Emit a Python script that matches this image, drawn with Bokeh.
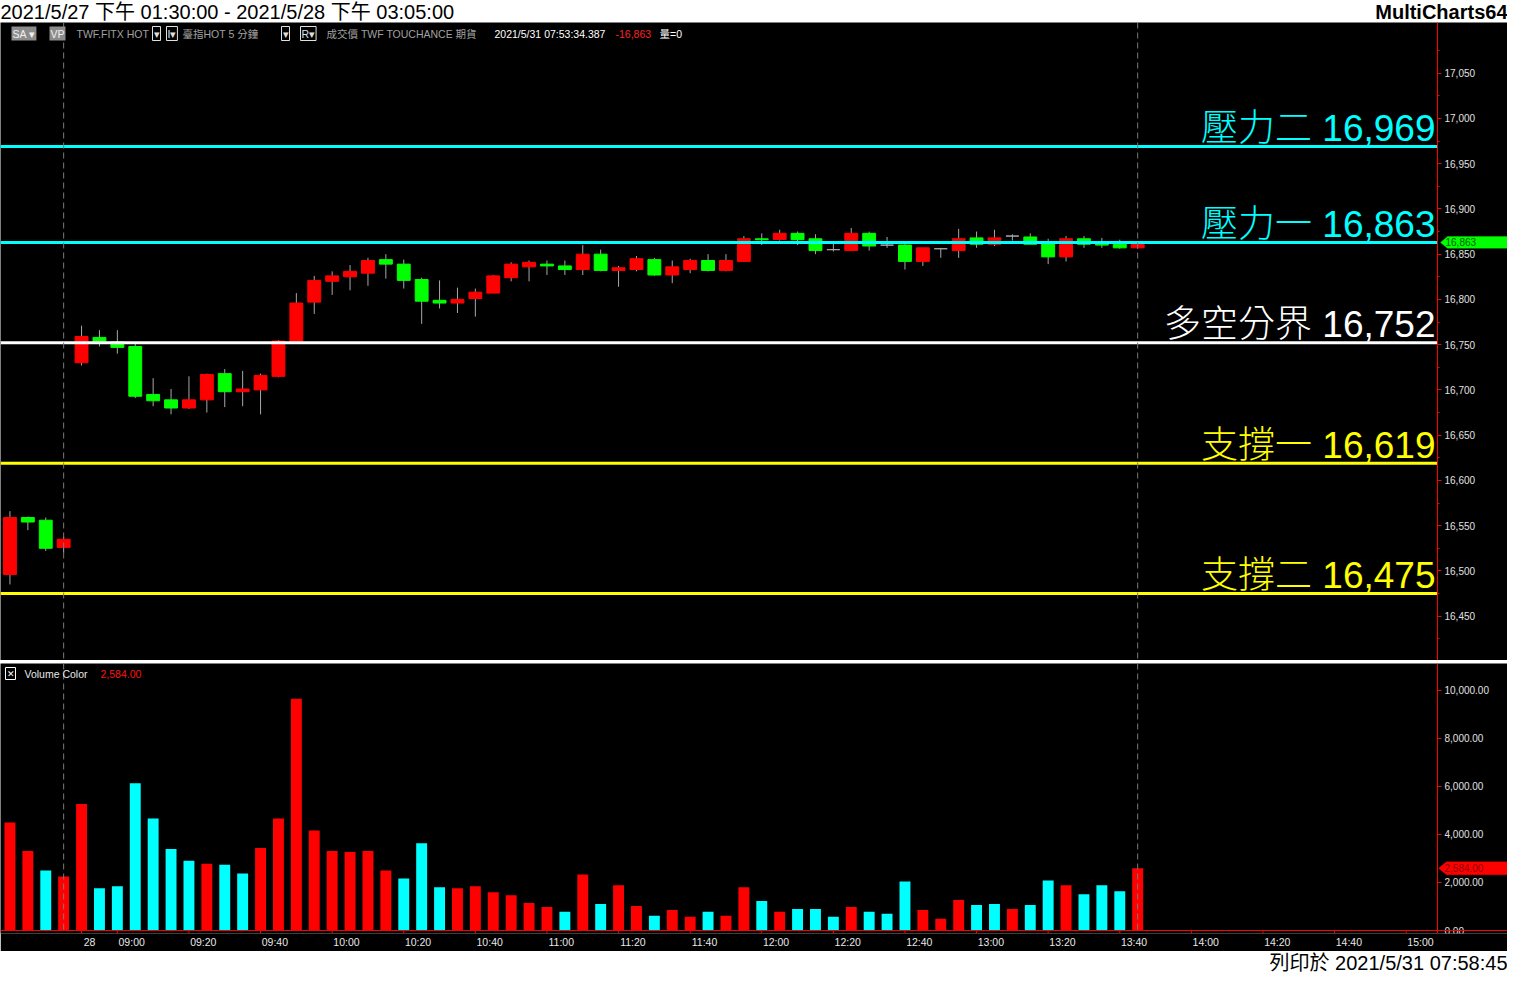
from bokeh.plotting import figure
from bokeh.models import (Span, Label, FixedTicker, NumeralTickFormatter, Range1d,
                          PolyAnnotation, ColumnDataSource, LinearAxis)
from bokeh.layouts import column
from bokeh.embed import file_html
from bokeh.resources import INLINE
from bokeh.core.properties import value

# ---------------- data ----------------
title_text = "2021/5/27 下午 01:30:00 - 2021/5/28 下午 03:05:00"
brand_text = "MultiCharts64"
footer_text = "列印於 2021/5/31 07:58:45"

opens = [16496, 16559, 16556, 16526, 16730, 16758, 16753, 16748, 16695, 16689,
         16680, 16689, 16718, 16698, 16700, 16715, 16753, 16797, 16820, 16825,
         16829, 16844, 16839, 16822, 16799, 16796, 16801, 16807, 16824, 16836,
         16839, 16837, 16833, 16850, 16832, 16833, 16844, 16827, 16833, 16843,
         16832, 16842, 16867, 16866, 16873, 16867, 16855, 16854, 16873, 16860,
         16860, 16842, 16856, 16854, 16868, 16861, 16870, 16869, 16863, 16847,
         16867, 16861, 16861, 16857]
highs = [16566, 16560, 16559, 16538, 16771, 16766, 16766, 16751, 16713, 16701,
         16715, 16718, 16723, 16721, 16718, 16755, 16807, 16826, 16831, 16838,
         16846, 16850, 16844, 16824, 16821, 16813, 16812, 16827, 16841, 16843,
         16843, 16843, 16860, 16855, 16837, 16848, 16846, 16843, 16845, 16850,
         16850, 16870, 16873, 16877, 16875, 16872, 16862, 16879, 16875, 16869,
         16861, 16857, 16857, 16878, 16875, 16877, 16872, 16873, 16867, 16870,
         16870, 16868, 16866, 16864]
lows = [16485, 16545, 16522, 16520, 16727, 16748, 16740, 16691, 16682, 16673,
        16679, 16675, 16681, 16682, 16673, 16714, 16752, 16784, 16805, 16810,
        16815, 16823, 16812, 16773, 16790, 16785, 16781, 16807, 16820, 16820,
        16827, 16827, 16827, 16831, 16814, 16831, 16826, 16818, 16829, 16831,
        16831, 16842, 16860, 16865, 16860, 16850, 16853, 16854, 16854, 16857,
        16833, 16837, 16846, 16846, 16857, 16859, 16865, 16861, 16839, 16842,
        16857, 16857, 16856, 16856]
closes = [16559, 16554, 16525, 16535, 16759, 16753, 16747, 16693, 16688, 16680,
          16689, 16717, 16698, 16701, 16716, 16754, 16796, 16821, 16826, 16831,
          16843, 16839, 16821, 16798, 16796, 16800, 16808, 16826, 16839, 16841,
          16837, 16833, 16850, 16832, 16835, 16845, 16827, 16836, 16843, 16832,
          16843, 16867, 16866, 16873, 16866, 16854, 16855, 16873, 16859, 16860,
          16842, 16857, 16856, 16867, 16861, 16868, 16870, 16861, 16847, 16867,
          16861, 16860, 16857, 16863]
volumes = [4490, 3306, 2490, 2245, 5265, 1755, 1837, 6122, 4653, 3388,
           2898, 2775, 2735, 2367, 3429, 4653, 9633, 4163, 3306, 3265,
           3306, 2490, 2163, 3633, 1796, 1755, 1837, 1592, 1469, 1142,
           979, 775, 2326, 1102, 1877, 1020, 612, 857, 571, 775,
           612, 1795, 1224, 775, 898, 898, 571, 979, 775, 694,
           2040, 857, 490, 1265, 1061, 1102, 898, 1061, 2081, 1877,
           1510, 1877, 1632, 2584]
vol_dir = ["R", "R", "C", "R", "R", "C", "C", "C", "C", "C",
           "C", "R", "C", "C", "R", "R", "R", "R", "R", "R",
           "R", "R", "C", "C", "C", "R", "R", "R", "R", "R",
           "R", "C", "R", "C", "R", "R", "C", "R", "R", "C",
           "R", "R", "C", "R", "C", "C", "C", "R", "C", "C",
           "C", "R", "R", "R", "C", "C", "R", "C", "C", "R",
           "C", "C", "C", "R"]

session_breaks = [3, 63]
tick_bars = [4, 6, 10, 14, 18, 22, 26, 30, 34, 38, 42, 46, 50, 54, 58, 62, 66, 70, 74, 78]
tick_texts = ["28", "09:00", "09:20", "09:40", "10:00", "10:20", "10:40", "11:00", "11:20",
              "11:40", "12:00", "12:20", "12:40", "13:00", "13:20", "13:40", "14:00",
              "14:20", "14:40", "15:00"]

level_names = ["壓力二", "壓力一", "多空分界", "支撐一", "支撐二"]
level_values = [16969, 16863, 16752, 16619, 16475]
level_colors = ["#00ffff", "#00ffff", "#ffffff", "#ffff00", "#ffff00"]

last_price = closes[-1]
last_volume = volumes[-1]

# ---------------- layout constants ----------------
W = 1507
AXW = 70
FW = W - AXW
PH = 638
VH = 288
VB = 18
BELOW = 3
UI_FONT = "Liberation Sans, Noto Sans CJK TC"
BIG_FONT = "Liberation Sans, Noto Sans CJK TC Light, Noto Sans CJK TC DemiLight, Noto Sans CJK TC"

x_start = -0.528
x_axis_pos = 79.75
x_end = x_start + (x_axis_pos - x_start) * W / FW
x_range = Range1d(x_start, x_end)


def style_axis(ax, minor=True):
    ax.axis_line_color = "red"
    ax.major_tick_line_color = "red"
    ax.minor_tick_line_color = "red" if minor else None
    ax.major_tick_in = 0
    ax.major_tick_out = 4
    ax.minor_tick_in = 0
    ax.minor_tick_out = 2
    ax.major_label_text_color = "#e0e0e0"
    ax.major_label_text_font = UI_FONT
    ax.major_label_text_font_size = "10px"
    ax.major_label_standoff = 3


# ---------------- header ----------------
header = figure(width=W, height=22, x_range=(0, W), y_range=(0, 22),
                x_axis_location=None, y_axis_location=None, toolbar_location=None,
                output_backend="svg", min_border=0, outline_line_color=None,
                background_fill_color="white", border_fill_color="white")
header.grid.visible = False
header.add_layout(Label(x=0, y=11, text=title_text, text_baseline="middle",
                        text_font=UI_FONT, text_font_size="20px", text_color="black"))
header.add_layout(Label(x=W, y=11, text=brand_text, text_baseline="middle", text_align="right",
                        text_font=UI_FONT, text_font_size="20px", text_font_style="bold",
                        text_color="black"))

# ---------------- price panel ----------------
p = figure(width=W, height=PH, x_range=x_range, y_range=Range1d(16401, 17106),
           x_axis_location=None, y_axis_location=None, toolbar_location=None,
           output_backend="svg", min_border=0,
           background_fill_color="black", border_fill_color="black",
           outline_line_color=None)
p.grid.visible = False
yax = LinearAxis(fixed_location=x_axis_pos,
                 ticker=FixedTicker(ticks=list(range(16450, 17100, 50)),
                                    minor_ticks=list(range(16425, 17100, 25))),
                 formatter=NumeralTickFormatter(format="0,0"))
style_axis(yax)
p.add_layout(yax, "right")

for b in session_breaks:
    p.add_layout(Span(location=b, dimension="height", line_color="#7a7a7a",
                      line_dash="6 4", line_width=1))

idx = list(range(len(opens)))
body_col = ["#ff0000" if c > o else ("#00ff00" if c < o else "#a8a8a8") for o, c in zip(opens, closes)]
src = ColumnDataSource(dict(x=idx, o=opens, h=highs, l=lows, c=closes,
                            top=[max(o, c) for o, c in zip(opens, closes)],
                            bot=[min(o, c) for o, c in zip(opens, closes)],
                            col=body_col))
p.segment(x0="x", y0="l", x1="x", y1="h", source=src, line_color="#a8a8a8", line_width=1)
p.vbar(x="x", width=0.72, top="top", bottom="bot", source=src,
       fill_color="col", line_color="col", line_width=1)

n_lv = len(level_values)
lsrc = ColumnDataSource(dict(x0=[x_start] * n_lv, x1=[x_axis_pos] * n_lv, y=level_values,
                             t=[f"{n} {v:,}" for n, v in zip(level_names, level_values)],
                             col=level_colors))
p.segment(x0="x0", y0="y", x1="x1", y1="y", source=lsrc, line_color="col", line_width=3)
p.text(x="x1", y="y", text="t", source=lsrc, text_color="col", text_align="right",
       text_baseline="alphabetic", x_offset=-2, y_offset=-18,
       text_font=value(BIG_FONT), text_font_size="37px")

# info strip at top of price panel
info_y = PH - 11
info_items = [
    (11, "SA ▾", "#f0f0f0", "#8c8c8c", None),
    (49, "VP", "#f0f0f0", "#8c8c8c", None),
    (75, "TWF.FITX HOT", "#a0a0a0", None, None),
    (152, "▾", "#e0e0e0", None, "#e0e0e0"),
    (166, "I▾", "#e0e0e0", None, "#e0e0e0"),
    (181, "臺指HOT   5 分鐘", "#a0a0a0", None, None),
    (281, "▾", "#e0e0e0", None, "#e0e0e0"),
    (300, "R▾", "#e0e0e0", None, "#e0e0e0"),
    (325, "成交價   TWF   TOUCHANCE   期貨", "#a0a0a0", None, None),
    (493, "2021/5/31   07:53:34.387", "#ffffff", None, None),
    (614, f"-{last_price:,}", "#ff2020", None, None),
    (658, "量=0", "#ffffff", None, None),
]
for x, t, tc, bg, bd in info_items:
    kw = {}
    if bg:
        kw["background_fill_color"] = bg
    if bd:
        kw["border_line_color"] = bd
    p.add_layout(Label(x=x, y=info_y, x_units="screen", y_units="screen", text=t,
                       text_color=tc, text_font=UI_FONT, text_font_size="10.5px",
                       text_baseline="middle", padding=1, **kw))

# last price marker on the axis
p.add_layout(PolyAnnotation(xs=[FW + 3, FW + 10, FW + 76, FW + 76, FW + 10],
                            ys=[last_price, last_price + 6.5, last_price + 6.5, last_price - 6.5, last_price - 6.5],
                            xs_units="screen", ys_units="data",
                            fill_color="#00ff00", fill_alpha=1, line_color="#00ff00"))
p.add_layout(Label(x=FW + 8, y=last_price, x_units="screen", y_units="data",
                   text=f"{last_price:,}", text_color="#006000", text_font=UI_FONT,
                   text_font_size="10px", text_baseline="middle"))

# ---------------- separator ----------------
sep = figure(width=W, height=3, x_axis_location=None, y_axis_location=None,
             toolbar_location=None, output_backend="svg", min_border=0,
             outline_line_color=None, background_fill_color="#c4c4c4",
             border_fill_color="#c4c4c4")
sep.grid.visible = False

# ---------------- volume panel ----------------
vtop = 11102
vframe = VH - VB
upx = vtop / (vframe - BELOW)
v = figure(width=W, height=VH, x_range=x_range, y_range=Range1d(-BELOW * upx, vtop),
           x_axis_location="below", y_axis_location=None, toolbar_location=None,
           output_backend="svg", min_border_left=0, min_border_top=0, min_border_bottom=VB,
           min_border_right=0, background_fill_color="black", border_fill_color="black",
           outline_line_color=None)
v.grid.visible = False
vy = LinearAxis(fixed_location=x_axis_pos,
                ticker=FixedTicker(ticks=[0, 2000, 4000, 6000, 8000, 10000]),
                formatter=NumeralTickFormatter(format="0,0.00"))
style_axis(vy, minor=False)
v.add_layout(vy, "right")

label_pos = [b + (0.45 if t == "28" else 0.8) for b, t in zip(tick_bars, tick_texts)]
vx = v.xaxis[0]
vx.ticker = FixedTicker(ticks=label_pos)
vx.major_label_overrides = {pos: t for pos, t in zip(label_pos, tick_texts)}
vx.axis_line_color = None
vx.major_tick_line_color = None
vx.minor_tick_line_color = None
vx.major_tick_in = 0
vx.major_tick_out = 0
vx.minor_tick_in = 0
vx.minor_tick_out = 0
vx.major_label_text_color = "#e8e8e8"
vx.major_label_text_font = UI_FONT
vx.major_label_text_font_size = "10.5px"
vx.major_label_standoff = 2

for b in session_breaks:
    v.add_layout(Span(location=b, dimension="height", line_color="#7a7a7a",
                      line_dash="6 4", line_width=1))

vcol = ["#ff0000" if d == "R" else "#00ffff" for d in vol_dir]
vsrc = ColumnDataSource(dict(x=idx, top=volumes, col=vcol))
v.vbar(x="x", width=0.61, top="top", bottom=0, source=vsrc, fill_color="col", line_color=None)

v.add_layout(Span(location=0, dimension="width", line_color="red", line_width=1))
v.segment(x0=tick_bars, y0=[0] * len(tick_bars), x1=tick_bars, y1=[-BELOW * upx] * len(tick_bars),
          line_color="red", line_width=1)

v.add_layout(Label(x=5, y=vframe - 10, x_units="screen", y_units="screen", text="✕",
                   text_color="#ffffff", border_line_color="#ffffff", text_font=UI_FONT,
                   text_font_size="9px", text_baseline="middle", padding=1))
v.add_layout(Label(x=24, y=vframe - 10, x_units="screen", y_units="screen", text="Volume Color",
                   text_color="#e8e8e8", text_font=UI_FONT, text_font_size="10.5px",
                   text_baseline="middle"))
v.add_layout(Label(x=100, y=vframe - 10, x_units="screen", y_units="screen",
                   text=f"{last_volume:,.2f}", text_color="#ff1010", text_font=UI_FONT,
                   text_font_size="10.5px", text_baseline="middle"))

v.add_layout(PolyAnnotation(xs=[FW + 1, FW + 9, FW + 76, FW + 76, FW + 9],
                            ys=[last_volume, last_volume + 6.5 * upx, last_volume + 6.5 * upx,
                                last_volume - 6.5 * upx, last_volume - 6.5 * upx],
                            xs_units="screen", ys_units="data",
                            fill_color="#ff0000", fill_alpha=1, line_color="#ff0000"))
v.add_layout(Label(x=FW + 7, y=last_volume, x_units="screen", y_units="data",
                   text=f"{last_volume:,.2f}", text_color="#900000", text_font=UI_FONT,
                   text_font_size="10px", text_baseline="middle"))

# ---------------- footer ----------------
footer = figure(width=W, height=21, x_range=(0, W), y_range=(0, 21),
                x_axis_location=None, y_axis_location=None, toolbar_location=None,
                output_backend="svg", min_border=0, outline_line_color=None,
                background_fill_color="white", border_fill_color="white")
footer.grid.visible = False
footer.add_layout(Label(x=W, y=10, text=footer_text, text_baseline="middle", text_align="right",
                        text_font=UI_FONT, text_font_size="20px", text_color="black"))

layout = column(header, p, sep, v, footer, spacing=0)
open("out.html", "w").write(file_html(layout, INLINE))
